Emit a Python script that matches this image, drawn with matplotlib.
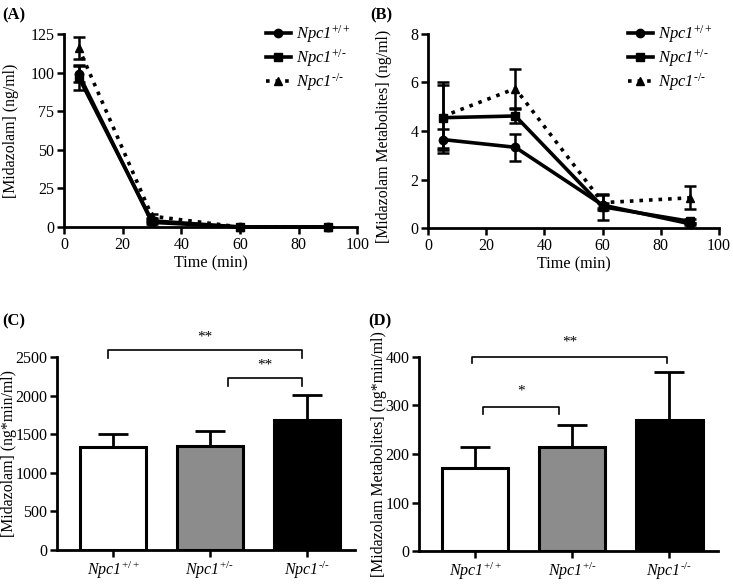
import numpy as np
import matplotlib
matplotlib.use('Agg')
import matplotlib.pyplot as plt
from matplotlib.lines import Line2D

plt.rcParams['font.family'] = 'serif'
plt.rcParams['font.serif'] = ['Liberation Serif', 'DejaVu Serif']
plt.rcParams['mathtext.fontset'] = 'custom'
plt.rcParams['mathtext.rm'] = 'Liberation Serif'
plt.rcParams['mathtext.it'] = 'Liberation Serif:italic'
plt.rcParams['axes.unicode_minus'] = False

# -----------------------------
# data
# -----------------------------
time = [5, 30, 60, 90]
genotypes = [r'Npc1$^{+/+}$', r'Npc1$^{+/\text{-}}$', r'Npc1$^{\text{-}/\text{-}}$']

# (A) midazolam plasma concentration
mdz_wt = [99, 3, 0, 0]
mdz_wt_err = [5, 1, 0, 0]
mdz_het = [97, 4, 0, 0]
mdz_het_err = [8, 1, 0, 0]
mdz_ko = [116, 7, 0, 0]
mdz_ko_err = [7, 1.5, 0, 0]

# (B) midazolam metabolites
met_wt = [3.65, 3.33, 0.95, 0.18]
met_wt_err = [0.45, 0.56, 0.1, 0.05]
met_het = [4.55, 4.62, 0.88, 0.28]
met_het_err = [1.45, 0.3, 0.53, 0.08]
met_ko = [4.6, 5.75, 1.05, 1.25]
met_ko_err = [1.3, 0.8, 0.32, 0.48]

# (C) AUC midazolam
auc_mdz = [1330, 1345, 1685]
auc_mdz_err = [175, 190, 325]

# (D) AUC metabolites
auc_met = [172, 215, 270]
auc_met_err = [43, 45, 98]

bar_colors = ['white', '#8c8c8c', 'black']

fig = plt.figure(figsize=(7.33, 5.85), dpi=100)

axA = fig.add_axes([0.0873, 0.612, 0.400, 0.330])
axB = fig.add_axes([0.584, 0.610, 0.397, 0.332])
axC = fig.add_axes([0.0778, 0.0598, 0.4065, 0.330])
axD = fig.add_axes([0.5716, 0.058, 0.408, 0.332])

lw = 2.6
tick_fs = 11.5
lab_fs = 11.4


def style_axis(ax):
    for side in ['top', 'right']:
        ax.spines[side].set_visible(False)
    for side in ['left', 'bottom']:
        ax.spines[side].set_linewidth(2.0)
    ax.tick_params(direction='out', length=5, width=1.8, labelsize=tick_fs, pad=2)


def line_panel(ax, series, ylim, yticks, ylabel, label_x, label_y):
    specs = [('o', '-'), ('s', '-'), ('^', ':')]
    handles = []
    for (y, e), (m, ls), lab in zip(series, specs, genotypes):
        ax.errorbar(time, y, yerr=e, marker=m, linestyle=ls, color='black',
                    linewidth=lw, markersize=6, capsize=4, elinewidth=1.8,
                    capthick=1.8, clip_on=False, zorder=3)
        handles.append(Line2D([], [], marker=m, linestyle=ls, color='black',
                              linewidth=lw, markersize=6, label=lab))
    ax.set_xlim(0, 100)
    ax.set_ylim(*ylim)
    ax.set_xticks(np.arange(0, 101, 20))
    ax.set_yticks(yticks)
    ax.set_xlabel('Time (min)', fontsize=11.7, labelpad=2)
    ax.set_ylabel(ylabel, fontsize=lab_fs, va='center')
    ax.yaxis.set_label_coords(label_x, label_y)
    style_axis(ax)
    ax.legend(handles=handles, loc='upper right', frameon=False,
              prop={'style': 'italic', 'size': 12},
              handlelength=1.5, handletextpad=0.3, labelspacing=0.12,
              borderaxespad=0.0, bbox_to_anchor=(1.0, 1.09))


line_panel(axA, [(mdz_wt, mdz_wt_err), (mdz_het, mdz_het_err), (mdz_ko, mdz_ko_err)],
           (0, 125), np.arange(0, 126, 25), '[Midazolam] (ng/ml)', -0.18, 0.5)
line_panel(axB, [(met_wt, met_wt_err), (met_het, met_het_err), (met_ko, met_ko_err)],
           (0, 8), np.arange(0, 9, 2), '[Midazolam Metabolites] (ng/ml)', -0.152, 0.47)


def bar_panel(ax, vals, errs, ylim, yticks, ylabel, label_x, brackets):
    x = np.arange(len(vals))
    ax.bar(x, vals, width=0.68, color=bar_colors, edgecolor='black',
           linewidth=2.2, zorder=2)
    ax.errorbar(x, vals, yerr=[np.zeros(len(errs)), errs], fmt='none',
                ecolor='black', elinewidth=2.0, capsize=11, capthick=2.0, zorder=1)
    ax.set_xlim(-0.58, 2.5)
    ax.set_ylim(*ylim)
    ax.set_yticks(yticks)
    ax.set_xticks(x)
    ax.set_xticklabels(genotypes, fontsize=11.5, fontstyle='italic')
    ax.set_ylabel(ylabel, fontsize=lab_fs, va='center')
    ax.yaxis.set_label_coords(label_x, 0.5)
    style_axis(ax)
    for x0, x1, yb, yd, ys, txt in brackets:
        ax.plot([x0, x0, x1, x1], [yd, yb, yb, yd], color='black',
                linewidth=1.2, clip_on=False)
        ax.text((x0 + x1) / 2, ys, txt, ha='center', va='center',
                fontsize=11, clip_on=False)


bar_panel(axC, auc_mdz, auc_mdz_err, (0, 2500), np.arange(0, 2501, 500),
          '[Midazolam] (ng*min/ml)', -0.162,
          [(-0.05, 1.95, 2586, 2490, 2760, '**'),
           (1.19, 1.95, 2228, 2124, 2400, '**')])
bar_panel(axD, auc_met, auc_met_err, (0, 400), np.arange(0, 401, 100),
          '[Midazolam Metabolites] (ng*min/ml)', -0.135,
          [(-0.03, 1.97, 400, 388, 430, '**'),
           (0.08, 0.86, 297, 282, 330, '*')])

for lab, (fx, fy) in zip(['(A)', '(B)', '(C)', '(D)'],
                         [(0.003, 0.988), (0.505, 0.988), (0.003, 0.465), (0.503, 0.465)]):
    fig.text(fx, fy, lab, fontsize=12, fontweight='bold', va='top', ha='left')

plt.savefig('out.png', dpi=100)
